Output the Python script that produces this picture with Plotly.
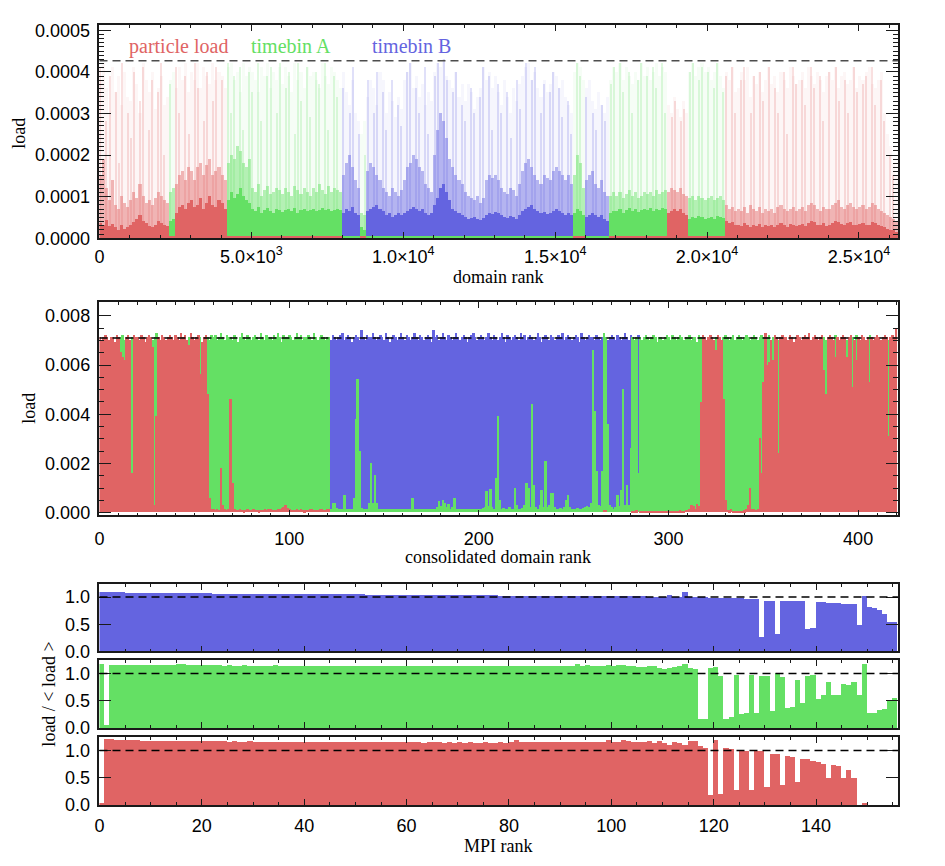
import plotly.graph_objects as go

RED = "#E06464"
GREEN = "#64E064"
BLUE = "#6464E0"
COLORS = {"R": RED, "G": GREEN, "B": BLUE}

# ---------------- panel 1: domain rank (binned, 100 domains per bin), units 1e-6 ----------------
dom_bin_width = 100
dom_max = 26284
dom_seg_start = [0, 2350, 2480, 4200, 7970, 8650, 8800, 15610, 15990, 16760, 18670, 19430, 20580]
dom_seg_kind = ["R", "G", "R", "G", "B", "G", "B", "G", "B", "G", "R", "G", "R"]
dom_floor_1e6 = [0, 4, 0, 4, 5, 4, 5, 4, 5, 4, 0, 4, 0]

dom_solid_1e6 = [
    35, 30, 42, 28, 33, 25, 20, 30, 22, 26,
    30, 38, 45, 55, 40, 35, 28, 25, 32, 40,
    35, 30, 28, 40, 45, 60, 75, 80, 70, 85,
    90, 75, 80, 95, 70, 85, 100, 80, 75, 90,
    85, 70, 90, 110, 95, 105, 120, 100, 90, 85,
    70, 65, 75, 60, 68, 72, 65, 60, 70, 66,
    62, 68, 70, 65, 72, 60, 66, 70, 64, 68,
    70, 65, 68, 72, 66, 70, 64, 68, 70, 66,
    60, 70, 65, 75, 60, 55, 25, 20, 65, 70,
    75, 80, 70, 65, 55, 60, 50, 55, 60, 55,
    60, 65, 70, 75, 70, 65, 70, 60, 55, 60,
    80, 95, 120, 130, 110, 90, 70, 65, 60, 55,
    50, 45, 48, 50, 45, 42, 48, 55, 60, 58,
    62, 60, 55, 50, 48, 52, 50, 45, 55, 65,
    70, 75, 80, 70, 65, 60, 62, 58, 60, 65,
    70, 65, 60, 55, 60, 55, 60, 70, 65, 55,
    50, 55, 60, 55, 50, 55, 45, 40, 60, 65,
    65, 70, 60, 68, 72, 65, 70, 62, 66, 70,
    68, 72, 65, 70, 66, 72, 70, 60, 65, 70,
    65, 70, 60, 55, 45, 50, 48, 52, 50, 45,
    48, 50, 45, 52, 50, 48, 40, 35, 38, 30,
    32, 28, 35, 30, 25, 30, 28, 33, 26, 30,
    28, 30, 25, 32, 35, 30, 27, 33, 30, 28,
    30, 33, 28, 35, 40, 38, 32, 30, 35, 28,
    30, 35, 40, 38, 33, 30, 35, 38, 32, 30,
    33, 35, 30, 32, 38, 35, 30, 28, 25, 22, 20, 18, 15,
]
dom_mid_1e6 = [
    150, 190, 120, 90, 140, 80, 70, 100, 85, 75,
    90, 110, 95, 130, 100, 85, 90, 80, 95, 110,
    100, 90, 85, 110, 120, 130, 150, 160, 140, 170,
    160, 140, 170, 180, 150, 175, 190, 150, 160, 170,
    150, 140, 180, 200, 190, 220, 210, 180, 170, 190,
    120, 110, 130, 100, 115, 125, 105, 110, 120, 115,
    105, 120, 110, 100, 125, 115, 105, 120, 110, 100,
    120, 110, 130, 115, 105, 125, 110, 120, 115, 110,
    150, 180, 200, 170, 140, 120, 60, 55, 160, 180,
    170, 150, 140, 120, 110, 100, 120, 110, 100, 115,
    140, 170, 180, 200, 190, 170, 160, 130, 120, 110,
    200, 260, 300, 280, 240, 190, 170, 150, 140, 130,
    110, 100, 95, 90, 100, 85, 95, 140, 150, 145,
    150, 140, 120, 110, 105, 120, 115, 100, 130, 160,
    180, 190, 170, 150, 140, 130, 150, 145, 140, 160,
    170, 160, 150, 140, 150, 130, 150, 200, 180, 120,
    140, 150, 160, 130, 120, 140, 110, 100, 100, 110,
    100, 110, 95, 105, 115, 100, 110, 95, 100, 110,
    105, 110, 100, 115, 105, 110, 115, 110, 120, 115,
    110, 120, 105, 100, 95, 100, 90, 100, 95, 90,
    95, 100, 90, 95, 100, 90, 80, 70, 75, 65,
    70, 65, 75, 60, 80, 70, 65, 75, 60, 70,
    65, 70, 60, 75, 80, 70, 65, 70, 75, 65,
    70, 75, 65, 80, 85, 80, 70, 65, 75, 70,
    70, 80, 85, 90, 75, 70, 80, 85, 75, 70,
    75, 80, 70, 75, 85, 80, 70, 65, 60, 55, 50, 45, 40,
]
dom_peak_1e6 = [
    380, 420, 360, 300, 410, 350, 390, 320, 400, 340,
    330, 410, 370, 300, 420, 380, 350, 400, 310, 360,
    390, 320, 340, 380, 400, 360, 410, 380, 420, 350,
    400, 380, 420, 360, 410, 390, 370, 420, 380, 400,
    390, 360, 410, 420, 380, 400, 350, 420, 390, 410,
    400, 380, 350, 410, 390, 420, 360, 400, 380, 410,
    370, 410, 390, 350, 420, 380, 400, 360, 410, 390,
    400, 380, 360, 420, 390, 370, 410, 400, 380, 360,
    400, 350, 320, 380, 300, 280, 250, 280, 340, 380,
    360, 320, 400, 380, 300, 350, 330, 290, 340, 310,
    380, 400, 420, 360, 390, 340, 370, 320, 350, 330,
    400, 420, 410, 430, 390, 380, 360, 400, 340, 370,
    330, 370, 350, 310, 340, 360, 410, 380, 400, 360,
    390, 350, 320, 380, 340, 300, 360, 330, 370, 390,
    410, 420, 380, 400, 360, 340, 380, 350, 370, 400,
    390, 360, 380, 340, 320, 300, 400, 420, 410, 380,
    360, 380, 330, 310, 350, 320, 300, 340, 380, 410,
    400, 420, 380, 410, 390, 370, 400, 380, 420, 390,
    410, 380, 400, 420, 390, 410, 400, 320, 300, 340,
    310, 290, 330, 300, 400, 420, 390, 410, 420, 400,
    410, 380, 400, 420, 390, 360, 400, 380, 410, 350,
    360, 400, 380, 410, 340, 390, 370, 400, 350, 380,
    410, 370, 390, 350, 400, 380, 360, 410, 390, 370,
    380, 400, 360, 410, 390, 370, 400, 380, 350, 390,
    400, 380, 410, 360, 390, 400, 370, 380, 410, 360,
    390, 380, 400, 410, 370, 360, 380, 400, 300, 250, 220, 180, 150,
]
dom_streak_1e6 = [
    410, 0, 280, 390, 0, 350, 180, 420, 0, 300,
    240, 400, 0, 330, 410, 0, 260, 380, 0, 350,
    420, 200, 0, 370, 0, 410, 300, 0, 390, 250,
    0, 420, 360, 0, 280, 400, 0, 330, 410, 0,
    380, 0, 420, 300, 390, 0, 410, 260, 0, 400,
    350, 0, 420, 280, 0, 390, 410, 0, 300, 420,
    0, 360, 400, 0, 250, 420, 330, 0, 410, 290,
    0, 400, 370, 0, 420, 260, 0, 390, 340, 0,
    360, 0, 300, 410, 0, 250, 0, 200, 380, 0,
    300, 400, 0, 350, 260, 0, 380, 0, 320, 270,
    0, 400, 420, 0, 360, 300, 0, 410, 250, 0,
    390, 420, 0, 430, 380, 0, 350, 400, 0, 320,
    280, 0, 360, 300, 0, 340, 410, 0, 390, 260,
    0, 370, 300, 0, 350, 240, 0, 380, 310, 0,
    420, 0, 380, 410, 0, 300, 370, 0, 350, 400,
    0, 360, 290, 0, 330, 250, 0, 420, 390, 0,
    340, 0, 300, 260, 0, 320, 280, 0, 370, 410,
    0, 420, 350, 0, 400, 300, 0, 380, 420, 0,
    390, 0, 410, 360, 0, 420, 300, 0, 290, 330,
    0, 280, 310, 0, 400, 420, 0, 380, 410, 0,
    400, 0, 360, 420, 0, 350, 390, 0, 410, 300,
    0, 380, 410, 0, 300, 390, 0, 400, 330, 0,
    410, 0, 360, 300, 0, 400, 250, 0, 410, 370,
    0, 380, 320, 0, 410, 360, 0, 390, 280, 0,
    400, 0, 410, 330, 0, 380, 300, 0, 410, 350,
    0, 370, 390, 0, 410, 320, 0, 380, 280, 0, 200, 150, 0,
]
dom_labels = ["particle load", "timebin A", "timebin B"]
dom_label_x = [2604, 6305, 10284]
dom_label_y = 0.000462
dom_ref = 0.000427

# ---------------- panel 2: consolidated domain rank ----------------
mid_total_1e4 = [
    71, 70, 71, 72, 71, 70, 71, 71, 69, 72, 71, 71, 72, 70, 71, 72, 70, 71, 72, 71,
    71, 70, 72, 71, 69, 71, 72, 71, 70, 71, 73, 71, 70, 72, 71, 70, 71, 72, 71, 70,
    72, 71, 70, 73, 71, 72, 70, 71, 73, 71, 70, 71, 72, 71, 69, 71, 72, 71, 70, 72,
    71, 72, 70, 71, 73, 71, 70, 72, 71, 71, 70, 72, 71, 69, 71, 73, 71, 70, 72, 71,
    70, 71, 72, 71, 70, 73, 71, 70, 72, 71, 71, 70, 72, 71, 73, 71, 69, 72, 71, 71,
    72, 71, 70, 71, 73, 71, 72, 70, 71, 71, 72, 71, 70, 73, 71, 70, 71, 72, 71, 70,
    71, 71, 70, 72, 71, 70, 71, 72, 73, 70, 71, 72, 71, 69, 71, 72, 71, 70, 74, 71,
    70, 72, 71, 71, 73, 71, 70, 71, 72, 71, 70, 73, 71, 69, 71, 72, 71, 70, 71, 73,
    71, 70, 72, 71, 70, 71, 73, 71, 70, 72, 71, 70, 71, 72, 71, 69, 74, 71, 72, 70,
    71, 73, 71, 70, 72, 71, 70, 71, 73, 71, 70, 71, 72, 71, 69, 71, 72, 73, 71, 70,
    71, 72, 71, 70, 71, 73, 71, 70, 72, 71, 70, 71, 73, 71, 69, 72, 71, 70, 71, 72,
    71, 70, 73, 71, 72, 70, 71, 72, 71, 70, 71, 73, 71, 69, 71, 72, 71, 70, 72, 71,
    70, 71, 72, 71, 73, 70, 71, 72, 71, 70, 71, 72, 71, 69, 73, 71, 70, 71, 72, 71,
    71, 70, 72, 71, 70, 71, 73, 71, 70, 71, 72, 71, 70, 72, 71, 70, 71, 73, 71, 70,
    72, 71, 70, 71, 72, 71, 70, 71, 72, 71, 70, 71, 72, 71, 69, 71, 71, 70, 71, 72,
    71, 70, 72, 71, 70, 71, 72, 71, 70, 71, 71, 72, 70, 71, 71, 69, 72, 71, 72, 71,
    70, 71, 72, 71, 70, 71, 72, 71, 70, 71, 72, 71, 70, 71, 72, 70, 71, 72, 71, 70,
    71, 72, 71, 70, 71, 72, 71, 70, 71, 72, 71, 73, 71, 72, 70, 71, 72, 71, 70, 71,
    72, 71, 71, 70, 72, 71, 69, 71, 72, 71, 70, 71, 72, 71, 73, 70, 71, 72, 71, 70,
    71, 72, 71, 70, 71, 72, 71, 70, 72, 71, 70, 71, 72, 71, 70, 71, 72, 71, 70, 72,
    71, 70, 72, 71, 70, 71, 72, 71, 70, 71, 72, 71, 70, 71, 72, 71, 70, 71, 72, 71,
    75,
]
mid_low_1e6 = [
    0, 0, 0, 0, 0, 0, 0, 0, 0, 0, 0, 6500, 6300, 6200, 0, 0, 0, 1600, 0, 0,
    0, 0, 0, 0, 0, 0, 0, 0, 6700, 300, 3900, 0, 0, 0, 0, 0, 0, 0, 0, 0,
    0, 0, 0, 0, 0, 0, 0, 6800, 0, 0, 0, 0, 0, 5600, 0, 0, 0, 4800, 600, 150,
    120, 100, 130, 110, 1800, 300, 120, 100, 140, 4600, 1200, 150, 110, 90, 120, 100, 80, 110, 130, 100,
    90, 120, 110, 100, 80, 90, 110, 130, 100, 120, 140, 110, 100, 90, 120, 150, 180, 200, 300, 160,
    120, 100, 90, 110, 130, 100, 120, 90, 80, 110, 100, 120, 140, 110, 100, 90, 120, 130, 110, 100,
    120, 140, 150, 400, 400, 160, 140, 150, 130, 700, 140, 150, 130, 140, 570, 3800, 5400, 2500, 160, 140,
    130, 150, 400, 2000, 400, 1500, 400, 150, 140, 120, 130, 140, 120, 150, 130, 120, 140, 130, 120, 140,
    130, 120, 140, 130, 150, 600, 140, 120, 130, 150, 140, 120, 130, 140, 120, 150, 130, 140, 200, 450,
    250, 500, 400, 200, 350, 150, 200, 600, 150, 130, 140, 120, 130, 140, 150, 130, 120, 140, 150, 130,
    140, 150, 160, 200, 880, 250, 940, 200, 150, 1400, 3900, 500, 150, 160, 140, 150, 200, 150, 140, 1000,
    300, 150, 140, 160, 300, 1200, 1000, 200, 4400, 1100, 200, 150, 300, 900, 200, 2100, 200, 300, 800, 800,
    200, 150, 140, 160, 150, 200, 500, 700, 200, 150, 140, 150, 160, 140, 150, 160, 200, 250, 200, 400,
    6600, 4100, 1700, 300, 250, 1700, 100, 100, 3600, 300, 200, 150, 200, 700, 250, 900, 5000, 300, 1100, 300,
    2600, 60, 50, 80, 1600, 60, 50, 60, 40, 50, 60, 50, 40, 60, 50, 60, 50, 40, 60, 50,
    60, 50, 70, 60, 50, 60, 80, 70, 60, 90, 100, 150, 300, 250, 150, 350, 250, 4500, 0, 0,
    0, 0, 0, 0, 0, 6600, 0, 0, 0, 4600, 500, 100, 80, 120, 60, 50, 60, 50, 60, 70,
    80, 150, 300, 1000, 150, 150, 100, 120, 3000, 1600, 5300, 0, 6000, 6100, 0, 6200, 0, 0, 2400, 0,
    0, 0, 0, 0, 0, 0, 0, 0, 0, 0, 0, 0, 0, 0, 0, 0, 0, 0, 0, 0,
    0, 0, 5800, 4800, 0, 0, 0, 0, 6300, 0, 0, 0, 0, 0, 6300, 0, 0, 5100, 0, 6200,
    0, 0, 0, 0, 0, 0, 5300, 0, 0, 0, 0, 0, 0, 0, 0, 0, 3100, 0, 0, 0,
    0,
]
mid_top_runs = [
    (0, "R"), (11, "G"), (14, "R"), (17, "G"), (18, "R"), (28, "G"), (31, "R"),
    (47, "G"), (48, "R"), (53, "G"), (54, "R"), (57, "G"), (122, "B"), (266, "G"),
    (268, "B"), (281, "G"), (284, "B"), (285, "G"), (318, "R"), (325, "G"), (326, "R"),
    (329, "G"), (351, "R"), (352, "G"), (354, "R"), (355, "G"), (356, "R"), (358, "G"),
    (359, "R"), (382, "G"), (384, "R"), (388, "G"), (389, "R"), (394, "G"), (395, "R"),
    (397, "G"), (398, "R"), (399, "G"), (400, "R"), (406, "G"), (407, "R"), (416, "G"),
    (417, "R"),
]
mid_ref = 0.0071

# ---------------- panels 3-5: MPI rank, load / <load> ----------------
mpi_timebin_B = [
    1.095, 1.095, 1.09, 1.09, 1.09, 1.088, 1.085, 1.083, 1.083, 1.08,
    1.08, 1.078, 1.078, 1.077, 1.075, 1.075, 1.074, 1.072, 1.072, 1.071,
    1.07, 1.07, 1.068, 1.068, 1.067, 1.066, 1.066, 1.065, 1.065, 1.064,
    1.063, 1.063, 1.062, 1.062, 1.061, 1.06, 1.06, 1.06, 1.058, 1.058,
    1.057, 1.057, 1.056, 1.056, 1.055, 1.055, 1.054, 1.054, 1.053, 1.053,
    1.052, 1.052, 1.051, 1.05, 1.05, 1.049, 1.048, 1.048, 1.047, 1.046,
    1.045, 1.045, 1.044, 1.043, 1.042, 1.042, 1.041, 1.04, 1.04, 1.039,
    1.038, 1.038, 1.037, 1.036, 1.036, 1.035, 1.035, 1.034, 1.033, 1.033,
    1.032, 1.032, 1.031, 1.03, 1.03, 1.029, 1.029, 1.028, 1.027, 1.027,
    1.026, 1.025, 1.025, 1.024, 1.023, 1.023, 1.022, 1.021, 1.021, 1.02,
    1.019, 1.019, 1.018, 1.017, 1.016, 1.016, 1.015, 1.014, 1.013, 1.012,
    1.012, 1.05, 1.011, 1.01, 1.095, 1.005, 1.003, 1.0, 0.998, 0.995,
    0.993, 0.99, 0.988, 0.985, 0.982, 0.978, 0.975, 0.97, 0.965, 0.27,
    0.94, 0.938, 0.32, 0.935, 0.932, 0.93, 0.928, 0.925, 0.41, 0.44,
    0.91, 0.905, 0.9, 0.895, 0.89, 0.885, 0.878, 0.87, 0.48, 1.02,
    0.82, 0.80, 0.77, 0.70, 0.54, 0.54,
]
mpi_timebin_A = [
    1.17, 0.05, 1.16, 1.16, 1.155, 1.16, 1.155, 1.15, 1.155, 1.15,
    1.15, 1.155, 1.15, 1.15, 1.155, 1.17, 1.175, 1.15, 1.15, 1.145,
    1.145, 1.15, 1.145, 1.145, 1.14, 1.145, 1.14, 1.14, 1.145, 1.14,
    1.14, 1.14, 1.135, 1.14, 1.145, 1.14, 1.135, 1.14, 1.14, 1.135,
    1.14, 1.135, 1.135, 1.14, 1.135, 1.13, 1.135, 1.14, 1.135, 1.13,
    1.135, 1.13, 1.13, 1.135, 1.14, 1.135, 1.13, 1.13, 1.14, 1.135,
    1.135, 1.14, 1.135, 1.13, 1.13, 1.135, 1.13, 1.13, 1.135, 1.13,
    1.13, 1.135, 1.13, 1.13, 1.14, 1.135, 1.14, 1.135, 1.13, 1.135,
    1.135, 1.14, 1.135, 1.13, 1.135, 1.13, 1.13, 1.135, 1.13, 1.135,
    1.14, 1.135, 1.13, 1.17, 1.14, 1.155, 1.135, 1.13, 1.14, 1.16,
    1.135, 1.145, 1.15, 1.14, 1.135, 1.125, 1.125, 1.137, 1.137, 1.107,
    1.083, 1.107, 1.125, 1.14, 1.17, 1.107, 1.08, 0.16, 0.16, 1.107,
    1.125, 0.96, 0.17, 0.19, 0.97, 0.25, 0.28, 0.975, 0.28, 0.96,
    0.96, 0.30, 1.0, 0.93, 0.37, 0.39, 0.88, 0.45, 0.96, 0.975,
    0.52, 0.60, 0.84, 0.61, 0.61, 0.81, 0.78, 0.85, 0.61, 1.17,
    0.28, 0.28, 0.32, 0.34, 0.51, 0.55,
]
mpi_particle = [
    0.03, 1.2, 1.2, 1.195, 1.19, 1.19, 1.185, 1.185, 1.18, 1.18,
    1.18, 1.175, 1.18, 1.175, 1.175, 1.17, 1.175, 1.17, 1.17, 1.175,
    1.17, 1.165, 1.17, 1.165, 1.165, 1.16, 1.165, 1.16, 1.16, 1.165,
    1.16, 1.16, 1.155, 1.16, 1.155, 1.155, 1.15, 1.155, 1.16, 1.155,
    1.155, 1.15, 1.155, 1.15, 1.15, 1.155, 1.15, 1.15, 1.145, 1.15,
    1.15, 1.145, 1.15, 1.155, 1.15, 1.145, 1.15, 1.145, 1.145, 1.15,
    1.145, 1.15, 1.145, 1.14, 1.145, 1.15, 1.145, 1.14, 1.145, 1.14,
    1.145, 1.14, 1.145, 1.14, 1.14, 1.145, 1.14, 1.14, 1.145, 1.14,
    1.15, 1.185, 1.16, 1.16, 1.155, 1.16, 1.155, 1.155, 1.16, 1.155,
    1.16, 1.155, 1.15, 1.16, 1.155, 1.16, 1.16, 1.155, 1.16, 1.185,
    1.16, 1.16, 1.185, 1.165, 1.16, 1.155, 1.155, 1.17, 1.14, 1.165,
    1.14, 1.107, 1.155, 1.14, 1.107, 1.167, 1.167, 1.077, 1.05, 0.175,
    1.185, 0.2, 1.035, 1.017, 0.28, 0.99, 0.99, 0.28, 0.99, 0.99,
    0.32, 0.94, 0.93, 0.355, 0.9, 0.87, 0.42, 0.84, 0.84, 0.81,
    0.78, 0.75, 0.49, 0.73, 0.71, 0.49, 0.63, 0.5, 0.0, 0.02,
    0, 0, 0, 0, 0, 0,
]
mpi_ref = 1.0

# ---------------- build figure ----------------
fig = go.Figure()


def kind_of_domain(d):
    k = dom_seg_kind[0]
    f = dom_floor_1e6[0]
    for s, kk, ff in zip(dom_seg_start, dom_seg_kind, dom_floor_1e6):
        if d >= s:
            k, f = kk, ff
    return k, f


bin_x = [dom_bin_width * i + dom_bin_width / 2 for i in range(len(dom_solid_1e6))]
bin_info = [kind_of_domain(x) for x in bin_x]
bin_kind = [b[0] for b in bin_info]
bin_floor = [b[1] for b in bin_info]

# faint haze, thin streaks, medium band, solid base
for values, op, wd in [(dom_peak_1e6, 0.06, dom_bin_width), (dom_streak_1e6, 0.2, 40),
                       (dom_mid_1e6, 0.45, dom_bin_width), (dom_solid_1e6, 1.0, dom_bin_width)]:
    for c in "RGB":
        ys = [v * 1e-6 if (k == c and v > 0) else None for v, k in zip(values, bin_kind)]
        fig.add_trace(go.Bar(x=bin_x, y=ys, width=wd,
                             marker=dict(color=COLORS[c], opacity=op, line=dict(width=0)),
                             xaxis="x", yaxis="y", showlegend=False, hoverinfo="skip"))
floor_color_for = {"B": "G", "G": "R"}
for c in "RG":
    ys = [f * 1e-6 if floor_color_for.get(k) == c else None for f, k in zip(bin_floor, bin_kind)]
    fig.add_trace(go.Bar(x=bin_x, y=ys, width=dom_bin_width,
                         marker=dict(color=COLORS[c], line=dict(width=0)),
                         xaxis="x", yaxis="y", showlegend=False, hoverinfo="skip"))

# panel 2
n_mid = len(mid_total_1e4)
mid_kind = []
for i in range(n_mid):
    k = "R"
    for s, kk in mid_top_runs:
        if i >= s:
            k = kk
    mid_kind.append(k)
mid_x = [i + 0.5 for i in range(n_mid)]
for c in "BGR":
    ys = [t * 1e-4 if k == c else None for t, k in zip(mid_total_1e4, mid_kind)]
    fig.add_trace(go.Bar(x=mid_x, y=ys, width=1.0,
                         marker=dict(color=COLORS[c], line=dict(width=0)),
                         xaxis="x2", yaxis="y2", showlegend=False, hoverinfo="skip"))
low_color_for = {"B": "G", "G": "R"}
for c in "GR":
    ys = [l * 1e-6 if low_color_for.get(k) == c and l > 0 else None
          for l, k in zip(mid_low_1e6, mid_kind)]
    fig.add_trace(go.Bar(x=mid_x, y=ys, width=1.0,
                         marker=dict(color=COLORS[c], line=dict(width=0)),
                         xaxis="x2", yaxis="y2", showlegend=False, hoverinfo="skip"))

# panels 3-5
for vals, c, ax in [(mpi_timebin_B, "B", 3), (mpi_timebin_A, "G", 4), (mpi_particle, "R", 5)]:
    fig.add_trace(go.Bar(x=[i + 0.5 for i in range(len(vals))], y=vals, width=1.0,
                         marker=dict(color=COLORS[c], line=dict(width=0)),
                         xaxis=f"x{ax}", yaxis=f"y{ax}", showlegend=False, hoverinfo="skip"))

W, H = 945, 866
XDOM = [95 / W, 897.7 / W]


def ydom(top_px, bot_px):
    return [1 - bot_px / H, 1 - top_px / H]


LINE = "#1a1a1a"
TICKFONT = dict(family="Liberation Sans, Arial, sans-serif", size=18, color="black")
SERIF = "Liberation Serif, Times New Roman, serif"


def xaxis(rng, tickvals, ticktext, minor, anchor, labels=True, standoff=6):
    return dict(domain=XDOM, range=rng, anchor=anchor, showline=True, linecolor=LINE,
                linewidth=1.5, mirror="allticks", ticks="inside", ticklen=6, tickwidth=1.2,
                tickcolor=LINE, tickvals=tickvals, ticktext=ticktext, showgrid=False,
                zeroline=False, tickfont=TICKFONT, showticklabels=labels,
                ticklabelstandoff=standoff,
                minor=dict(ticks="inside", ticklen=3, dtick=minor, tick0=0, tickcolor=LINE,
                           tickwidth=1, showgrid=False))


def yaxis(rng, dom, tickvals, ticktext, minor, anchor):
    d = dict(domain=dom, range=rng, anchor=anchor, showline=True, linecolor=LINE,
             linewidth=1.5, mirror="allticks", ticks="inside", ticklen=12, tickwidth=1.2,
             tickcolor=LINE, tickvals=tickvals, ticktext=ticktext, showgrid=False,
             zeroline=False, tickfont=TICKFONT, ticklabelstandoff=4)
    if minor:
        d["minor"] = dict(ticks="inside", ticklen=5, dtick=minor, tick0=0, tickcolor=LINE,
                          tickwidth=1, showgrid=False)
    return d


sup = lambda m, e: f"{m}×10<sup>{e}</sup>"
layout = dict(
    width=W, height=H, margin=dict(l=0, r=0, t=0, b=0),
    paper_bgcolor="white", plot_bgcolor="white", barmode="overlay", bargap=0,
    showlegend=False,
    xaxis=xaxis([0, dom_max], [0, 5000, 10000, 15000, 20000, 25000],
                ["0", sup("5.0", 3), sup("1.0", 4), sup("1.5", 4), sup("2.0", 4), sup("2.5", 4)],
                1000, "y", standoff=1),
    yaxis=yaxis([0, 0.000512], ydom(20.7, 237.3), [0, 1e-4, 2e-4, 3e-4, 4e-4, 5e-4],
                ["0.0000", "0.0001", "0.0002", "0.0003", "0.0004", "0.0005"], 1e-5, "x"),
    xaxis2=xaxis([0, 421], [0, 100, 200, 300, 400], ["0", "100", "200", "300", "400"], 10, "y2"),
    yaxis2=yaxis([-0.0001, 0.00854], ydom(302.7, 519.3), [0, 0.002, 0.004, 0.006, 0.008],
                 ["0.000", "0.002", "0.004", "0.006", "0.008"], 0.0005, "x2"),
)
mpi_ticks = [0, 20, 40, 60, 80, 100, 120, 140]
for ax, (t, b) in zip([3, 4, 5], [(589, 657.7), (666.7, 735.7), (745, 814)]):
    layout[f"xaxis{ax}"] = xaxis([0, 156], mpi_ticks, [str(v) for v in mpi_ticks], 5, f"y{ax}",
                                 labels=(ax == 5), standoff=4)
    layout[f"yaxis{ax}"] = yaxis([0, 1.245], ydom(t, b), [0, 0.5, 1.0], ["0.0", "0.5", "1.0"],
                                 None, f"x{ax}")
fig.update_layout(**layout)

# reference dashed lines
shapes = [dict(type="line", xref="x domain", yref="y", x0=0, x1=1, y0=dom_ref, y1=dom_ref,
               line=dict(color="#4d4d4d", width=1.5, dash="8px,5px")),
          dict(type="line", xref="x2 domain", yref="y2", x0=0, x1=1, y0=mid_ref, y1=mid_ref,
               line=dict(color="black", width=1.5, dash="8px,5px"))]
for ax in [3, 4, 5]:
    shapes.append(dict(type="line", xref=f"x{ax} domain", yref=f"y{ax}", x0=0, x1=1,
                       y0=mpi_ref, y1=mpi_ref, line=dict(color="black", width=1.5, dash="8px,5px")))
fig.update_layout(shapes=shapes)

ann = []
for txt, xv, c in zip(dom_labels, dom_label_x, [RED, GREEN, BLUE]):
    ann.append(dict(text=txt, x=xv, y=dom_label_y, xref="x", yref="y", showarrow=False,
                    xanchor="center", yanchor="middle", font=dict(family=SERIF, size=20, color=c)))


def page_text(txt, xpx, ypx, rot=0):
    return dict(text=txt, x=xpx / W, y=1 - ypx / H, xref="paper", yref="paper", showarrow=False,
                xanchor="center", yanchor="middle", textangle=rot,
                font=dict(family=SERIF, size=18, color="black"))


ann += [page_text("domain rank", 496, 277), page_text("consolidated domain rank", 496, 562),
        page_text("MPI rank", 496, 856), page_text("load", 14, 130, -90),
        page_text("load", 24, 410, -90), page_text("load / &lt; load &gt;", 44, 701, -90)]
fig.update_layout(annotations=ann)

fig.write_html("out.html", config={"displayModeBar": False},
               post_script="document.body.style.margin='0px';document.body.style.overflow='hidden';")
